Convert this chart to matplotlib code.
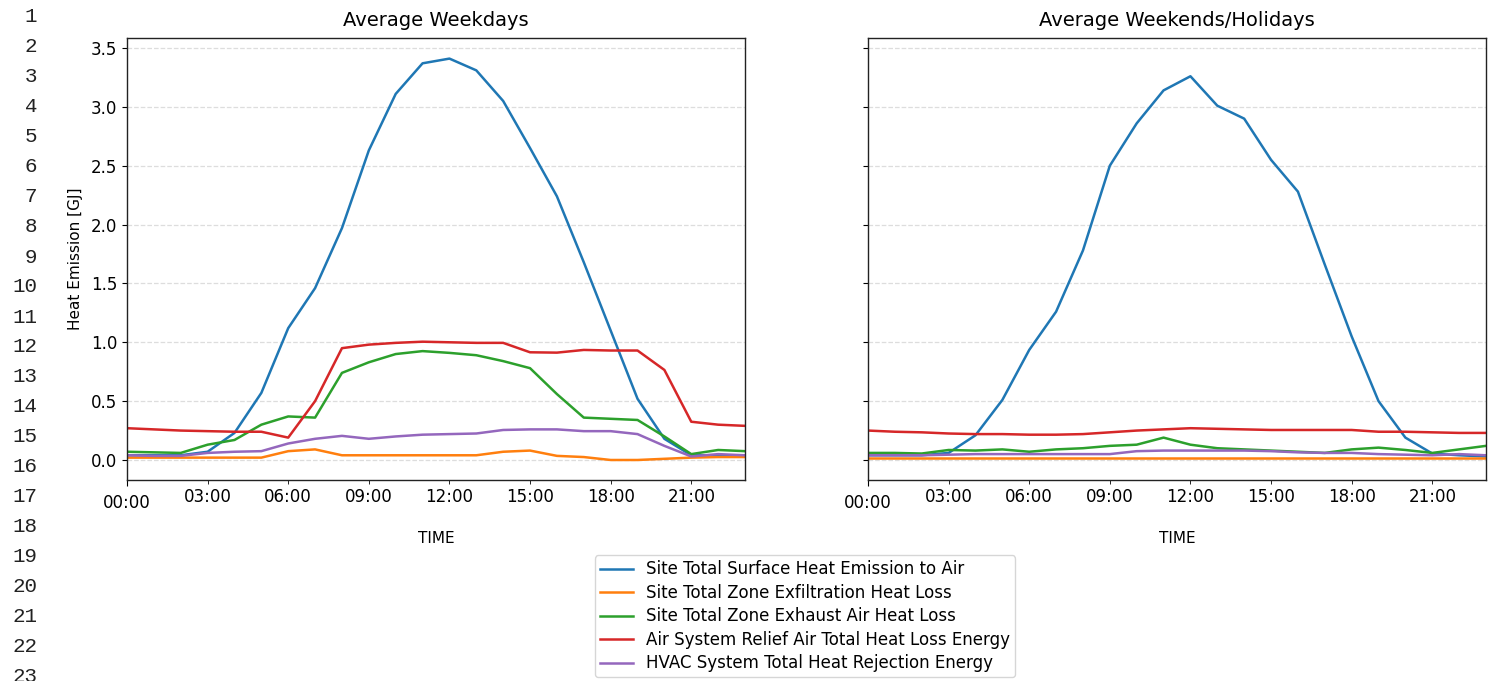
import matplotlib
matplotlib.use("Agg")
import matplotlib.pyplot as plt
from matplotlib.ticker import FixedLocator, FixedFormatter

hours = list(range(24))
major_ticks = [0]
major_labels = ["00:00"]
minor_ticks = [3, 6, 9, 12, 15, 18, 21]
minor_labels = ["03:00", "06:00", "09:00", "12:00", "15:00", "18:00", "21:00"]

series_names = [
    "Site Total Surface Heat Emission to Air",
    "Site Total Zone Exfiltration Heat Loss",
    "Site Total Zone Exhaust Air Heat Loss",
    "Air System Relief Air Total Heat Loss Energy",
    "HVAC System Total Heat Rejection Energy",
]

# weekdays
wd_surface = [0.04, 0.04, 0.04, 0.07, 0.23, 0.57, 1.12, 1.46, 1.97, 2.63, 3.11, 3.37,
              3.41, 3.31, 3.05, 2.65, 2.24, 1.68, 1.10, 0.52, 0.18, 0.04, 0.04, 0.03]
wd_exfil = [0.02, 0.02, 0.02, 0.02, 0.02, 0.02, 0.075, 0.09, 0.04, 0.04, 0.04, 0.04,
            0.04, 0.04, 0.07, 0.08, 0.035, 0.025, 0.0, 0.0, 0.01, 0.02, 0.025, 0.025]
wd_exhaust = [0.07, 0.065, 0.06, 0.13, 0.17, 0.30, 0.37, 0.36, 0.74, 0.83, 0.90, 0.925,
              0.91, 0.89, 0.84, 0.78, 0.56, 0.36, 0.35, 0.34, 0.20, 0.05, 0.085, 0.075]
wd_relief = [0.27, 0.26, 0.25, 0.245, 0.24, 0.24, 0.19, 0.50, 0.95, 0.98, 0.995, 1.005,
             1.0, 0.995, 0.995, 0.915, 0.912, 0.935, 0.93, 0.93, 0.765, 0.325, 0.30, 0.29]
wd_hvac = [0.04, 0.035, 0.035, 0.06, 0.07, 0.075, 0.14, 0.18, 0.205, 0.18, 0.20, 0.215,
           0.22, 0.225, 0.255, 0.26, 0.26, 0.245, 0.245, 0.22, 0.12, 0.03, 0.05, 0.04]

# weekends / holidays
we_surface = [0.04, 0.04, 0.04, 0.06, 0.21, 0.51, 0.935, 1.26, 1.78, 2.50, 2.86, 3.14,
              3.26, 3.01, 2.90, 2.55, 2.28, 1.66, 1.05, 0.50, 0.19, 0.055, 0.04, 0.03]
we_exfil = [0.02, 0.02, 0.02, 0.02, 0.02, 0.02, 0.02, 0.02, 0.02, 0.02, 0.02, 0.02,
            0.02, 0.02, 0.02, 0.02, 0.02, 0.02, 0.02, 0.02, 0.02, 0.02, 0.02, 0.02]
we_exhaust = [0.06, 0.06, 0.055, 0.085, 0.08, 0.09, 0.07, 0.09, 0.10, 0.12, 0.13, 0.19,
              0.13, 0.10, 0.09, 0.08, 0.07, 0.06, 0.09, 0.105, 0.085, 0.06, 0.09, 0.12]
we_relief = [0.25, 0.24, 0.235, 0.225, 0.22, 0.22, 0.215, 0.215, 0.22, 0.235, 0.25, 0.26,
             0.27, 0.265, 0.26, 0.255, 0.255, 0.255, 0.255, 0.24, 0.24, 0.235, 0.23, 0.23]
we_hvac = [0.04, 0.04, 0.04, 0.045, 0.05, 0.05, 0.05, 0.05, 0.05, 0.05, 0.075, 0.08,
           0.08, 0.08, 0.08, 0.075, 0.065, 0.06, 0.06, 0.05, 0.045, 0.04, 0.05, 0.04]

weekday = [wd_surface, wd_exfil, wd_exhaust, wd_relief, wd_hvac]
weekend = [we_surface, we_exfil, we_exhaust, we_relief, we_hvac]
colors = ["#1f77b4", "#ff7f0e", "#2ca02c", "#d62728", "#9467bd"]

fig = plt.figure(figsize=(14.94, 6.81), dpi=100)
ax1 = fig.add_axes([127 / 1494, 1 - 480 / 681, 618 / 1494, 442 / 681])
ax2 = fig.add_axes([868 / 1494, 1 - 480 / 681, 618 / 1494, 442 / 681], sharey=ax1)

for ax, data, title in [(ax1, weekday, "Average Weekdays"),
                        (ax2, weekend, "Average Weekends/Holidays")]:
    for values, name, c in zip(data, series_names, colors):
        ax.plot(hours, values, color=c, linewidth=1.8, label=name)
    ax.set_title(title, fontsize=14, pad=9)
    ax.set_xlim(0, 23)
    ax.xaxis.set_major_locator(FixedLocator(major_ticks))
    ax.xaxis.set_major_formatter(FixedFormatter(major_labels))
    ax.xaxis.set_minor_locator(FixedLocator(minor_ticks))
    ax.xaxis.set_minor_formatter(FixedFormatter(minor_labels))
    ax.tick_params(axis="x", which="major", labelsize=12, pad=6, length=4)
    ax.tick_params(axis="x", which="minor", labelsize=12, pad=2.5, length=3)
    ax.tick_params(axis="y", labelsize=12)
    ax.grid(axis="y", linestyle="--", color="#dddddd", linewidth=0.9)
    ax.set_xlabel("TIME", fontsize=11, labelpad=14)
    for s in ax.spines.values():
        s.set_color("#222222")
        s.set_linewidth(1.0)

ax1.set_ylim(-0.17, 3.585)
ax1.set_yticks([0.0, 0.5, 1.0, 1.5, 2.0, 2.5, 3.0, 3.5])
ax1.set_ylabel("Heat Emission [GJ]", fontsize=11, labelpad=6)
ax2.tick_params(axis="y", labelleft=False)

handles, labels = ax1.get_legend_handles_labels()
fig.legend(handles, labels, loc="upper center", bbox_to_anchor=(805 / 1494, 1 - 547 / 681),
           fontsize=12, frameon=True, handlelength=2.0, borderpad=0.3, labelspacing=0.33)

# line numbers along the left margin
for i in range(1, 24):
    fig.text(37 / 1494, 1 - (17 + 30 * (i - 1)) / 681, str(i), ha="right", va="center",
             fontsize=15, family="Liberation Mono", color="#222222")

fig.savefig("out.png", dpi=100)
